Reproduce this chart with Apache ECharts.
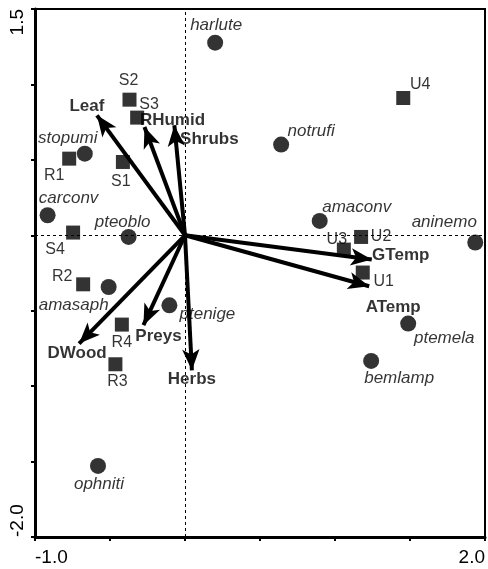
<!DOCTYPE html>
<html><head><meta charset="utf-8">
<script src="https://cdn.jsdelivr.net/npm/echarts@6/dist/echarts.min.js"></script>
<style>html,body{margin:0;padding:0;background:#fff}#c{width:488px;height:569px}</style>
</head><body><div id="c"></div>
<script>
// ---- data ----
const speciesNames = ['harlute','notrufi','stopumi','carconv','pteoblo','amasaph','ptenige','ophniti','amaconv','aninemo','ptemela','bemlamp'];
const speciesX = [0.201, 0.641, -0.668, -0.916, -0.376, -0.509, -0.104, -0.580, 0.898, 1.935, 1.488, 1.241];
const speciesY = [1.277, 0.601, 0.541, 0.133, -0.011, -0.343, -0.464, -1.529, 0.095, -0.048, -0.585, -0.833];

const siteNames = ['U4','R1','S1','S2','S3','S4','R2','R4','R3','U3','U2','U1'];
const siteX = [1.455, -0.772, -0.414, -0.370, -0.319, -0.746, -0.679, -0.421, -0.464, 1.059, 1.174, 1.185];
const siteY = [0.910, 0.508, 0.486, 0.899, 0.780, 0.018, -0.325, -0.592, -0.855, -0.095, -0.011, -0.247];

const varNames = ['Leaf','RHumid','Shrubs','GTemp','ATemp','DWood','Preys','Herbs'];
const varX = [-0.587, -0.270, -0.071, 1.245, 1.228, -0.706, -0.277, 0.046];
const varY = [0.795, 0.718, 0.729, -0.161, -0.338, -0.718, -0.596, -0.895];

const xTickLabels = {'-1': '-1.0', '2': '2.0'};
const yTickLabels = {'-2': '-2.0', '1.5': '1.5'};

// ---- label placement (styling, px offsets from marker) ----
const speciesOffsets = {harlute:[1,-17], notrufi:[30,-13], stopumi:[-17,-15], carconv:[21,-17], pteoblo:[-6,-15],
  amasaph:[-35,18], ptenige:[38,9], ophniti:[1,18], amaconv:[37,-14], aninemo:[-31,-20], ptemela:[36,15], bemlamp:[28,17]};
const siteOffsets = {U4:[17,-13], R1:[-15,17], S1:[-2,20], S2:[-1,-19], S3:[12,-13], S4:[-18,17], R2:[-21,-8],
  R4:[0,18], R3:[2,17], U3:[-7,-10], U2:[20,0], U1:[21,9]};
const varOffsets = {Leaf:[-10,-9], RHumid:[28,-7], Shrubs:[35,14], GTemp:[29,-4], ATemp:[24,21], DWood:[-2,10], Preys:[15,11], Herbs:[0,9]};

const FONT = '"Liberation Sans", Arial, Helvetica, sans-serif';

const chart = echarts.init(document.getElementById('c'), null, {renderer: 'canvas'});

const speciesData = speciesNames.map((n, i) => ({name: n, value: [speciesX[i], speciesY[i]], label: {offset: speciesOffsets[n]}}));
const siteData = siteNames.map((n, i) => ({name: n, value: [siteX[i], siteY[i]], label: {offset: siteOffsets[n]}}));
const varLabelData = varNames.map((n, i) => ({name: n, value: [varX[i], varY[i]], label: {offset: varOffsets[n]}}));
const arrowData = varNames.map((n, i) => ({name: n, coords: [[0, 0], [varX[i], varY[i]]]}));

const labelBase = {show: true, position: 'inside', formatter: '{b}', color: '#000', fontFamily: FONT, textBorderWidth: 0};

chart.setOption({
  animation: false,
  backgroundColor: '#fff',
  grid: {left: 35, right: 1.5, top: 9, bottom: 32, show: true, borderColor: '#000', borderWidth: 2, backgroundColor: 'transparent'},
  xAxis: {
    type: 'value', min: -1, max: 2, interval: 0.5,
    splitLine: {show: false},
    axisLine: {show: true, onZero: false, lineStyle: {color: '#000', width: 3}},
    axisTick: {show: true, length: 4, lineStyle: {color: '#000', width: 2}},
    axisLabel: {
      formatter: v => xTickLabels[String(v)] || '',
      color: '#000', fontSize: 19, fontFamily: FONT, margin: 11,
      alignMinLabel: 'left', alignMaxLabel: 'right', showMinLabel: true, showMaxLabel: true
    }
  },
  yAxis: {
    type: 'value', min: -2, max: 1.5, interval: 0.5,
    splitLine: {show: false},
    axisLine: {show: true, onZero: false, lineStyle: {color: '#000', width: 3}},
    axisTick: {show: true, length: 4, lineStyle: {color: '#000', width: 2}},
    axisLabel: {
      formatter: v => yTickLabels[String(v)] || '',
      rotate: 90,
      color: '#000', fontSize: 19, fontFamily: FONT, margin: 8,
      alignMinLabel: 'left', alignMaxLabel: 'right', showMinLabel: true, showMaxLabel: true
    }
  },
  series: [
    {
      type: 'scatter', data: [], z: 1, silent: true,
      markLine: {
        silent: true, symbol: ['none', 'none'], animation: false,
        label: {show: false},
        lineStyle: {color: '#000', width: 1, type: [3, 3]},
        data: [{xAxis: 0}, {yAxis: 0}]
      }
    },
    {
      type: 'lines', coordinateSystem: 'cartesian2d', z: 3, silent: true,
      symbol: ['none', 'arrow'], symbolSize: [1, [13, 21]],
      lineStyle: {color: '#000', width: 4, opacity: 1, curveness: 0},
      data: arrowData
    },
    {
      type: 'scatter', z: 4, silent: true,
      symbol: 'circle', symbolSize: 16,
      itemStyle: {color: '#000'},
      label: Object.assign({}, labelBase, {fontSize: 17, fontStyle: 'italic'}),
      data: speciesData
    },
    {
      type: 'scatter', z: 4, silent: true,
      symbol: 'rect', symbolSize: 14,
      itemStyle: {color: '#000'},
      label: Object.assign({}, labelBase, {fontSize: 16}),
      data: siteData
    },
    {
      type: 'scatter', z: 5, silent: true,
      symbol: 'circle', symbolSize: 0,
      itemStyle: {color: 'transparent'},
      label: Object.assign({}, labelBase, {fontSize: 17, fontWeight: 'bold'}),
      data: varLabelData
    }
  ]
});
</script>
</body></html>
